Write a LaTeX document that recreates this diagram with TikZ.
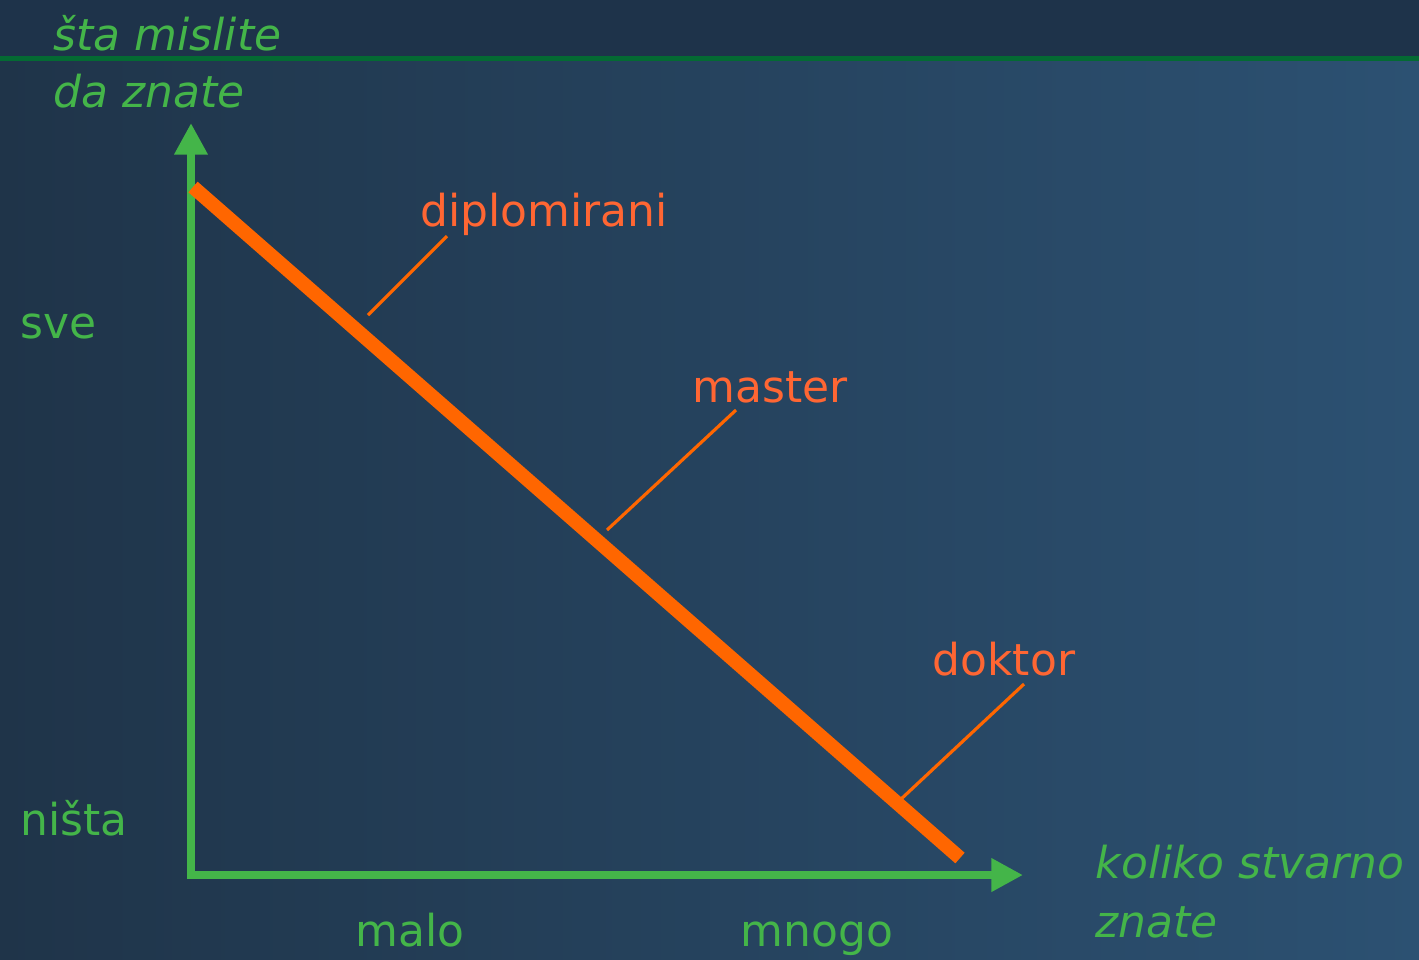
\documentclass[tikz,border=0pt]{standalone}
\usepackage{fontspec}
\setmainfont{DejaVu Sans}
\usetikzlibrary{arrows.meta}
\definecolor{bgtop}{HTML}{1E334A}
\definecolor{bgleft}{HTML}{1F3449}
\definecolor{bgright}{HTML}{2C5172}
\definecolor{axgreen}{HTML}{44B549}
\definecolor{rulegreen}{HTML}{046A33}
\definecolor{lineorange}{HTML}{FF6600}
\definecolor{txtorange}{HTML}{FF6633}
\tikzset{>=stealth}
\tikzset{
  axis/.style={axgreen, line width=2.3pt, -{Triangle[width=9pt,length=9pt]}},
  glabel/.style={text=axgreen, font=\fontsize{12.5}{15}\selectfont, inner sep=0pt, anchor=base west},
  olabel/.style={text=txtorange, font=\fontsize{12.5}{15}\selectfont, inner sep=0pt, anchor=base west},
  leader/.style={lineorange, line width=0.9pt}
}

\begin{document}
\begin{tikzpicture}[x=0.01cm, y=-0.01cm]
    \useasboundingbox (0,0) rectangle (1419,959);
    % background
    \shade[left color=bgleft, right color=bgright] (0,58) rectangle (1419,959);
    \fill[bgtop] (0,0) rectangle (1419,58);
    \fill[rulegreen] (0,56) rectangle (1419,61);
    % axes
    \coordinate (O) at (191,875);
    \coordinate (ytip) at (191,123);
    \coordinate (xtip) at (1023,875);
    \draw[axis] (191,879) -- (ytip);
    \draw[axis] (187,875) -- (xtip);
    % the line
    \coordinate (top) at (193,187);
    \coordinate (bot) at (960,858);
    \draw[lineorange, line width=4pt] (top) -- (bot);
    % labels
    \node[glabel] (ytitle1) at (53,50) {\itshape šta mislite};
    \node[glabel] (ytitle2) at (53,107) {\itshape da znate};
    \node[glabel] (sve) at (20,338) {sve};
    \node[glabel] (nista) at (20,835) {ništa};
    \node[glabel] (malo) at (355,946) {malo};
    \node[glabel] (mnogo) at (740,946) {mnogo};
    \node[glabel] (xtitle1) at (1095,878) {\itshape koliko stvarno};
    \node[glabel] (xtitle2) at (1095,937) {\itshape znate};
    \node[olabel] (dipl) at (420,226) {diplomirani};
    \node[olabel] (mast) at (692,402) {master};
    \node[olabel] (dokt) at (932,675) {doktor};
    % leaders
    \coordinate (d1) at (447,236);
    \coordinate (d2) at (368,315);
    \coordinate (m1) at (736,410);
    \coordinate (m2) at (607,530);
    \coordinate (k1) at (1024,684);
    \coordinate (k2) at (900,800);
    \draw[leader] (d1) -- (d2);
    \draw[leader] (m1) -- (m2);
    \draw[leader] (k1) -- (k2);
\end{tikzpicture}
\end{document}
